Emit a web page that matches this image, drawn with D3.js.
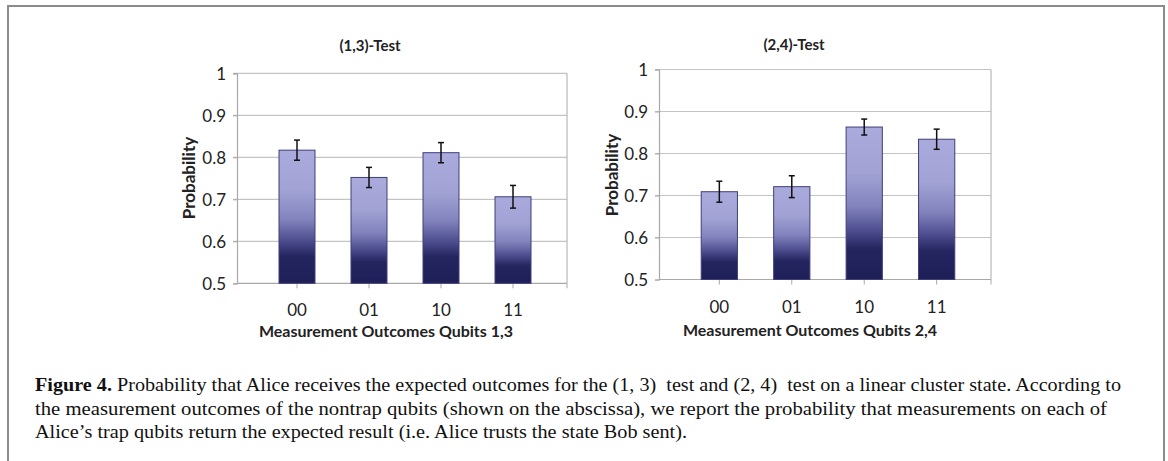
<!DOCTYPE html>
<html>
<head>
<meta charset="utf-8">
<script src="https://cdn.jsdelivr.net/npm/d3@7/dist/d3.min.js"></script>
<style>
  html, body { margin: 0; padding: 0; background: #ffffff; }
  svg { display: block; }
</style>
</head>
<body>
<svg id="fig" width="1168" height="461"></svg>
<script>
// ---------- data ----------
const categories = ["00", "01", "10", "11"];
const test13Values = [0.817, 0.752, 0.811, 0.706];
const test13Errors = [0.024, 0.024, 0.024, 0.027];
const test24Values = [0.709, 0.721, 0.863, 0.834];
const test24Errors = [0.025, 0.026, 0.019, 0.024];
const yTickValues = [0.5, 0.6, 0.7, 0.8, 0.9, 1];
const yTickLabels = ["0.5", "0.6", "0.7", "0.8", "0.9", "1"];
const panelTitles = ["(1,3)-Test", "(2,4)-Test"];
const xAxisTitles = ["Measurement Outcomes Qubits 1,3", "Measurement Outcomes Qubits 2,4"];
const yAxisTitle = "Probability";
const captionLines = [
  ["Figure 4.", " Probability that Alice receives the expected outcomes for the (1,\u00a03)\u00a0 test and (2,\u00a04)\u00a0 test on a linear cluster state. According to"],
  ["", "the measurement outcomes of the nontrap qubits (shown on the abscissa), we report the probability that measurements on each of"],
  ["", "Alice\u2019s trap qubits return the expected result (i.e. Alice trusts the state Bob sent)."]
];

// ---------- layout ----------
const svg = d3.select("#fig");
const sansFont = "Lato, 'Open Sans', sans-serif";

// frame
svg.append("rect")
  .attr("x", 8).attr("y", 6).attr("width", 1156).attr("height", 520)
  .attr("fill", "none").attr("stroke", "#8c8c8c").attr("stroke-width", 2);

// gradient
const defs = svg.append("defs");
const grad = defs.append("linearGradient").attr("id", "barGrad")
  .attr("x1", 0).attr("y1", 0).attr("x2", 0).attr("y2", 1);
[[0, "#aaabdc"], [0.3, "#a2a3d4"], [0.52, "#8283bd"], [0.68, "#4d4d8f"], [0.8, "#24245f"], [1, "#1f1f58"]]
  .forEach(([o, c]) => grad.append("stop").attr("offset", o).attr("stop-color", c));

const panels = [
  { left: 237, right: 567, top: 73.3, bottom: 283.3, bandStart: 243,
    values: test13Values, errors: test13Errors, title: panelTitles[0], xTitle: xAxisTitles[0],
    titleX: 370, titleY: 46, yLabelX: 189, yLabelY: 178, xLabelY: 310, xTitleX: 386, xTitleY: 331 },
  { left: 659, right: 991, top: 69.5, bottom: 279.5, bandStart: 665,
    values: test24Values, errors: test24Errors, title: panelTitles[1], xTitle: xAxisTitles[1],
    titleX: 794, titleY: 45, yLabelX: 612, yLabelY: 175, xLabelY: 307, xTitleX: 810, xTitleY: 330 }
];

panels.forEach(p => {
  const g = svg.append("g");
  const y = d3.scaleLinear().domain([0.5, 1]).range([p.bottom, p.top]);
  const x = d3.scaleBand().domain(categories).range([p.bandStart, p.right]).padding(0.5);

  // gridlines
  g.append("g").selectAll("line").data(yTickValues.filter(v => v > 0.5)).join("line")
    .attr("x1", p.left - 4).attr("x2", p.right)
    .attr("y1", d => y(d)).attr("y2", d => y(d))
    .attr("stroke", "#c4c4c4").attr("stroke-width", 1.2);

  // right border of plot area
  g.append("line").attr("x1", p.right).attr("x2", p.right).attr("y1", p.top).attr("y2", p.bottom + 5)
    .attr("stroke", "#b8b8b8").attr("stroke-width", 1.2);

  // y axis
  const yAxis = d3.axisLeft(y).tickValues(yTickValues)
    .tickFormat((d, i) => yTickLabels[i]).tickSize(4).tickPadding(7);
  const ya = g.append("g").attr("transform", `translate(${p.left},0)`).call(yAxis);
  ya.select(".domain").attr("stroke", "#a8a8a8").attr("stroke-width", 1.2);
  ya.selectAll(".tick line").attr("stroke", "#a8a8a8");
  ya.selectAll(".tick text").attr("font-family", sansFont).attr("font-size", 17)
    .attr("fill", "#222").attr("dy", "0.36em");

  // x axis
  const xAxis = d3.axisBottom(x).tickSize(5).tickPadding(11);
  const xa = g.append("g").attr("transform", `translate(0,${p.bottom})`).call(xAxis);
  xa.select(".domain").remove();
  xa.append("line").attr("x1", p.left).attr("x2", p.right).attr("y1", 0).attr("y2", 0)
    .attr("stroke", "#a8a8a8").attr("stroke-width", 1.2);
  xa.selectAll(".tick line").attr("stroke", "#a8a8a8");
  xa.selectAll(".tick text").attr("font-family", sansFont).attr("font-size", 17)
    .attr("fill", "#222").attr("y", p.xLabelY - p.bottom).attr("dy", "0.36em");

  // bars
  const data = categories.map((c, i) => ({ c, v: p.values[i], e: p.errors[i] }));
  g.append("g").selectAll("rect").data(data).join("rect")
    .attr("x", d => x(d.c)).attr("width", x.bandwidth())
    .attr("y", d => y(d.v)).attr("height", d => y(0.5) - y(d.v))
    .attr("fill", "url(#barGrad)").attr("stroke", "#3e3e7c").attr("stroke-width", 1);

  // error bars
  const eb = g.append("g").selectAll("g").data(data).join("g")
    .attr("transform", d => `translate(${x(d.c) + x.bandwidth() / 2},0)`);
  eb.append("line").attr("x1", 0).attr("x2", 0)
    .attr("y1", d => y(d.v + d.e)).attr("y2", d => y(d.v - d.e))
    .attr("stroke", "#111").attr("stroke-width", 1.5);
  eb.append("line").attr("x1", -3).attr("x2", 3)
    .attr("y1", d => y(d.v + d.e)).attr("y2", d => y(d.v + d.e))
    .attr("stroke", "#111").attr("stroke-width", 1.5);
  eb.append("line").attr("x1", -3).attr("x2", 3)
    .attr("y1", d => y(d.v - d.e)).attr("y2", d => y(d.v - d.e))
    .attr("stroke", "#111").attr("stroke-width", 1.5);

  // titles
  g.append("text").attr("x", p.titleX).attr("y", p.titleY).attr("dy", "0.36em")
    .attr("text-anchor", "middle").attr("font-family", sansFont).attr("font-weight", "bold")
    .attr("font-size", 15).attr("fill", "#222").text(p.title);
  g.append("text").attr("x", p.xTitleX).attr("y", p.xTitleY).attr("dy", "0.36em")
    .attr("text-anchor", "middle").attr("font-family", sansFont).attr("font-weight", "bold")
    .attr("font-size", 16).attr("fill", "#222").text(p.xTitle);
  g.append("text").attr("transform", `translate(${p.yLabelX},${p.yLabelY}) rotate(-90)`)
    .attr("dy", "0.36em").attr("text-anchor", "middle").attr("font-family", sansFont)
    .attr("font-weight", "bold").attr("font-size", 17).attr("fill", "#222").text(yAxisTitle);
});

// caption
const capBaselines = [391, 415, 438];
const capWidths = [1086, 1072, 652];
captionLines.forEach((line, i) => {
  const t = svg.append("text").attr("x", 35).attr("y", capBaselines[i])
    .attr("font-family", "'Liberation Serif', 'DejaVu Serif', serif").attr("font-size", 18)
    .attr("fill", "#111").attr("textLength", capWidths[i]).attr("lengthAdjust", "spacingAndGlyphs");
  if (line[0]) t.append("tspan").attr("font-weight", "bold").text(line[0]);
  t.append("tspan").text(line[1]);
});
</script>
</body>
</html>
